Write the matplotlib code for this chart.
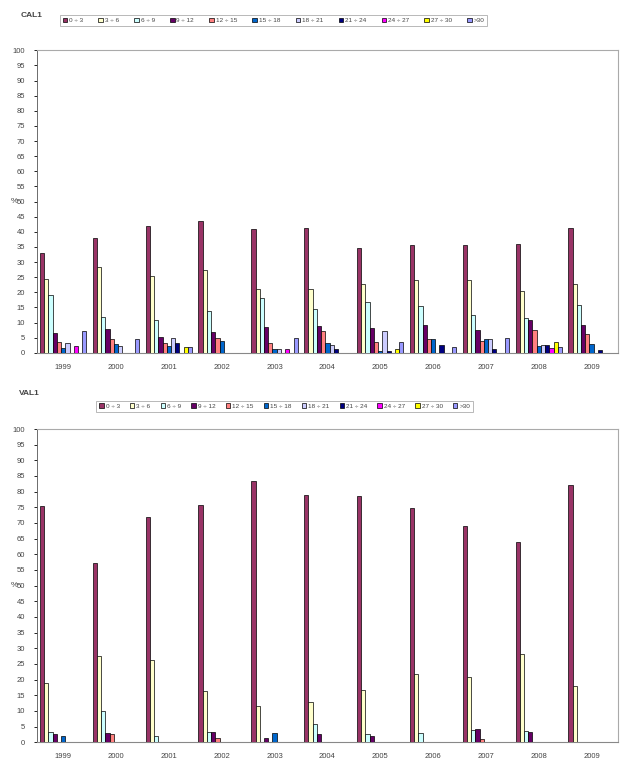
import matplotlib.pyplot as plt
import matplotlib.transforms as mtransforms
import numpy as np

plt.rcParams['font.family'] = ['Liberation Sans', 'DejaVu Sans']

years = ['1999', '2000', '2001', '2002', '2003', '2004', '2005', '2006', '2007', '2008', '2009']
classes = ['0 ÷ 3', '3 ÷ 6', '6 ÷ 9', '9 ÷ 12', '12 ÷ 15', '15 ÷ 18',
           '18 ÷ 21', '21 ÷ 24', '24 ÷ 27', '27 ÷ 30', '>30']
colors = ['#993366', '#FFFFCC', '#CCFFFF', '#660066', '#FF8080', '#0066CC',
          '#CCCCFF', '#000080', '#FF00FF', '#FFFF00', '#9999FF']

# CAL1 - one row per year, one column per class
cal1 = [
    [33.0, 24.5, 19.0, 6.4, 3.5, 1.5, 3.3, 0.0, 2.1, 0.0, 7.3],
    [38.0, 28.2, 11.9, 8.0, 4.4, 2.9, 2.4, 0.0, 0.0, 0.0, 4.5],
    [42.0, 25.3, 10.7, 5.3, 3.1, 2.2, 5.0, 3.1, 0.0, 2.0, 2.0],
    [43.5, 27.5, 13.7, 7.0, 5.0, 3.8, 0.0, 0.0, 0.0, 0.0, 0.0],
    [41.0, 21.2, 18.1, 8.6, 3.3, 1.1, 1.1, 0.0, 1.1, 0.0, 5.0],
    [41.3, 21.1, 14.5, 8.8, 7.1, 3.3, 2.7, 1.3, 0.0, 0.0, 0.0],
    [34.8, 22.7, 16.7, 8.1, 3.5, 0.5, 7.1, 0.5, 0.0, 1.1, 3.5],
    [35.8, 24.2, 15.4, 9.2, 4.6, 4.6, 0.0, 2.5, 0.0, 0.0, 2.0],
    [35.8, 24.0, 12.6, 7.7, 3.8, 4.7, 4.7, 1.1, 0.0, 0.0, 5.0],
    [36.0, 20.5, 11.5, 11.0, 7.5, 2.2, 2.5, 2.5, 1.6, 3.5, 2.0],
    [41.3, 22.9, 15.8, 9.1, 6.3, 3.0, 0.0, 0.8, 0.0, 0.0, 0.0],
]

# VAL1
val1 = [
    [75.5, 19.0, 3.2, 2.5, 0.0, 2.0, 0.0, 0.0, 0.0, 0.0, 0.0],
    [57.3, 27.4, 9.8, 3.0, 2.7, 0.0, 0.0, 0.0, 0.0, 0.0, 0.0],
    [71.8, 26.3, 2.1, 0.0, 0.0, 0.0, 0.0, 0.0, 0.0, 0.0, 0.0],
    [75.8, 16.5, 3.4, 3.2, 1.4, 0.0, 0.0, 0.0, 0.0, 0.0, 0.0],
    [83.5, 11.4, 0.0, 1.4, 0.0, 2.8, 0.0, 0.0, 0.0, 0.0, 0.0],
    [78.8, 12.8, 5.7, 2.7, 0.0, 0.0, 0.0, 0.0, 0.0, 0.0, 0.0],
    [78.5, 16.8, 2.7, 2.1, 0.0, 0.0, 0.0, 0.0, 0.0, 0.0, 0.0],
    [74.8, 21.9, 3.0, 0.0, 0.0, 0.0, 0.0, 0.0, 0.0, 0.0, 0.0],
    [69.0, 20.8, 4.0, 4.3, 1.1, 0.0, 0.0, 0.0, 0.0, 0.0, 0.0],
    [64.0, 28.1, 3.7, 3.2, 0.0, 0.0, 0.0, 0.0, 0.0, 0.0, 0.0],
    [82.2, 18.1, 0.0, 0.0, 0.0, 0.0, 0.0, 0.0, 0.0, 0.0, 0.0],
]

txt = '#444444'


def draw_panel(ax, data, title, leg_box, colspace):
    fig = ax.figure
    data = np.array(data)
    x = np.arange(len(years))
    w = 0.08
    for i, name in enumerate(classes):
        ax.bar(x + (i - 5) * w, data[:, i], width=w, color=colors[i],
               edgecolor='black', linewidth=0.5, label=name, zorder=3)

    ax.set_xlim(-0.5, 10.5)
    ax.set_ylim(0, 100)
    ax.set_yticks(np.arange(0, 101, 5))
    ax.set_xticks(x)
    ax.set_xticklabels(years)
    ax.tick_params(axis='x', length=0, labelsize=5.5, labelcolor=txt, pad=8)
    ax.tick_params(axis='y', length=2.5, width=0.6, labelsize=5.5, labelcolor=txt, pad=6)
    for s in ['top', 'right']:
        ax.spines[s].set_color('#aaaaaa')
        ax.spines[s].set_linewidth(0.8)
    ax.spines['left'].set_color('#555555')
    ax.spines['bottom'].set_color('#888888')
    ax.spines['left'].set_linewidth(0.6)
    ax.spines['bottom'].set_linewidth(0.8)

    # "%" sits right against the 50 tick label, as in the original
    trans = mtransforms.blended_transform_factory(fig.transFigure, ax.transData)
    ax.text(0.029, 50, '%', transform=trans, fontsize=6, color=txt,
            ha='right', va='center')

    fig.text(title[1], title[2], title[0], fontsize=6, fontweight='bold',
             color=txt, ha='left', va='center')

    leg = ax.legend(loc='center', bbox_to_anchor=leg_box, bbox_transform=fig.transFigure,
                    ncol=11, fontsize=4.6, frameon=True, fancybox=False,
                    handlelength=0.7, handleheight=0.7, handletextpad=0.3,
                    columnspacing=colspace, borderpad=0.45, labelcolor=txt)
    leg.get_frame().set_edgecolor('#999999')
    leg.get_frame().set_linewidth(0.6)


fig = plt.figure(figsize=(6.23, 7.62), dpi=100)
ax1 = fig.add_axes([0.059, 0.537, 0.933, 0.397])
ax2 = fig.add_axes([0.059, 0.026, 0.933, 0.411])

draw_panel(ax1, cal1, ('CAL1', 0.033, 0.980), (0.439, 0.973), 2.4)
draw_panel(ax2, val1, ('VAL1', 0.030, 0.484), (0.457, 0.467), 1.6)

fig.savefig('out.png', dpi=100, facecolor='white')
